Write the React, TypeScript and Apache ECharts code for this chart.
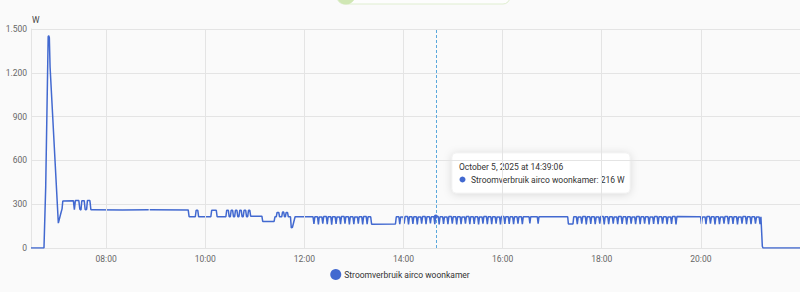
import React, { useEffect, useRef } from "react";
import * as echarts from "echarts";

const seriesName = "Stroomverbruik airco woonkamer";
const unitName = "W";
const dayYear = 2025;
const dayMonthIndex = 9; // October
const dayDate = 5;
const yTicks = [0, 300, 600, 900, 1200, 1500];
const xTickHours = [8, 10, 12, 14, 16, 18, 20];
const axisEndMinute = 1320; // 22:00
const hoverMinute = 879.1; // 14:39:06
const hoverValue = 216;
const tooltipTitle = "October 5, 2025 at 14:39:06";
const tooltipLine = "Stroomverbruik airco woonkamer: 216 W";

// [minute of day, watts]
const samples: [number, number | null][] = [
  [389.1, 0], [404.8, 0], [406.9, 418], [409.9, 1448], [410.6, 1455], [411.3, 1440], [412.2, 1240],
  [422.2, 170], [425.3, 240], [426.7, 268], [427.6, 322], [440.4, 324], [441.6, 262], [442.8, 325],
  [447.0, 325], [448.2, 266], [449.6, 260], [450.6, 324], [453.5, 324], [454.7, 262], [456.4, 264],
  [457.4, 325], [460.4, 325], [461.6, 262], [463.2, 262], [500.0, 261], [531.6, 262], [532.1, null],
  [532.8, 262], [579.4, 261],
  [580.5, 214], [588.0, 214], [589.0, 258], [591.0, 258], [592.0, 214], [606.8, 214], [607.8, 258],
  [613.4, 258], [614.4, 214], [625.0, 214], [626.0, 258], [628.0, 258], [629.0, 214], [630.4, 214],
  [631.4, 258], [633.2, 258], [634.2, 214], [635.6, 214], [636.6, 258], [638.4, 258], [639.4, 214],
  [640.8, 214], [641.8, 258], [643.6, 258], [644.6, 214], [646.0, 214], [647.0, 258], [649.0, 258],
  [650.0, 214], [651.4, 214], [652.4, 258], [654.0, 258], [655.0, 218], [668.6, 218], [669.6, 182],
  [683.4, 182], [684.4, 214], [686.0, 214], [687.0, 244], [689.0, 244], [690.0, 214], [692.6, 214],
  [693.6, 246], [695.0, 246], [696.0, 214], [697.0, 214], [698.0, 244], [699.6, 244], [700.6, 214],
  [703.2, 214], [704.2, 138], [705.6, 142], [708.8, 214],
  [727.3, 214], [730.5, 214], [731.6, 165], [732.7, 214], [735.9, 214], [737.0, 162],
  [738.0, 213], [741.2, 213], [742.3, 166], [743.4, 215], [746.6, 215], [747.7, 163],
  [748.8, 214], [752.0, 214], [753.1, 160], [754.1, 214], [757.3, 214], [758.4, 165],
  [759.5, 213], [762.7, 213], [763.8, 163], [764.9, 215], [768.1, 215], [769.2, 167],
  [770.2, 214], [773.4, 214], [774.5, 162], [775.6, 214], [778.8, 214], [779.9, 164],
  [781.0, 213], [784.2, 213], [785.3, 166], [786.3, 214], [789.5, 214], [790.6, 161],
  [791.7, 215], [794.9, 215], [796.0, 164], [797.1, 214], [800.3, 214], [801.4, 163],
  [830.3, 165],
  [831.3, 214], [834.4, 214], [835.5, 164], [836.6, 213], [839.7, 213], [840.8, 167],
  [841.9, 215], [845.0, 215], [846.1, 162], [847.2, 214], [850.3, 214], [851.4, 165],
  [852.5, 214], [855.6, 214], [856.7, 161], [857.8, 213], [860.9, 213], [862.0, 166],
  [863.1, 215], [866.2, 215], [867.3, 163], [868.4, 214], [871.5, 214], [872.6, 168],
  [873.7, 214], [876.8, 214], [877.9, 164], [879.0, 216], [882.1, 216], [883.2, 162],
  [884.3, 214], [887.4, 214], [888.5, 165], [889.6, 213], [892.7, 213], [893.8, 163],
  [894.9, 215], [898.0, 215], [899.1, 166], [900.2, 214], [903.3, 214], [904.4, 161],
  [905.5, 214], [908.6, 214], [909.7, 164], [910.8, 213], [913.9, 213], [915.0, 167],
  [916.1, 215], [919.2, 215], [920.3, 163], [921.4, 214], [924.5, 214], [925.6, 165],
  [926.7, 214], [929.8, 214], [930.9, 162], [932.0, 213], [935.1, 213], [936.2, 166],
  [937.3, 215], [940.4, 215], [941.5, 164], [942.6, 214], [945.7, 214], [946.8, 163],
  [947.9, 214], [951.0, 214], [952.1, 167], [953.2, 213], [956.3, 213], [957.4, 162],
  [958.5, 215], [961.6, 215], [962.7, 165],
  [963.8, 214], [966.9, 214], [968.0, 165], [969.1, 214], [972.2, 214], [973.3, 163],
  [974.4, 214], [977.5, 214], [978.6, 166], [979.7, 214], [982.8, 214], [983.9, 164],
  [985.0, 214], [992.0, 214], [993.0, 168], [994.0, 214], [1002.0, 214], [1003.0, 166],
  [1004.0, 214], [1038.8, 214], [1039.6, 165], [1045.2, 165],
  [1046.1, 214], [1049.3, 214], [1050.4, 164], [1051.5, 213], [1054.7, 213], [1055.8, 166],
  [1057.0, 215], [1060.2, 215], [1061.3, 162], [1062.4, 214], [1065.6, 214], [1066.7, 165],
  [1067.8, 214], [1071.0, 214], [1072.1, 163], [1073.3, 213], [1076.5, 213], [1077.6, 167],
  [1078.7, 215], [1081.9, 215], [1083.0, 161], [1084.1, 214], [1087.3, 214], [1088.4, 164],
  [1089.6, 214], [1092.8, 214], [1093.9, 166], [1095.0, 213], [1098.2, 213], [1099.3, 163],
  [1100.4, 215], [1103.6, 215], [1104.7, 165], [1105.9, 214], [1109.1, 214], [1110.2, 162],
  [1111.3, 214], [1114.5, 214], [1115.6, 167], [1116.7, 213], [1119.9, 213], [1121.0, 164],
  [1122.2, 215], [1125.4, 215], [1126.5, 163], [1127.6, 214], [1130.8, 214], [1131.9, 166],
  [1133.0, 214], [1136.2, 214], [1137.3, 162], [1138.5, 213], [1141.7, 213], [1142.8, 165],
  [1143.9, 215], [1147.1, 215], [1148.2, 164], [1149.3, 214], [1152.5, 214], [1153.6, 167],
  [1154.8, 214], [1158.0, 214], [1159.1, 163], [1160.2, 213], [1163.4, 213], [1164.5, 165],
  [1165.6, 215], [1168.8, 215], [1169.9, 162],
  [1171.0, 216],
  [1196.4, 214], [1199.6, 214], [1200.7, 165], [1201.9, 213], [1205.1, 213], [1206.2, 163],
  [1207.3, 215], [1210.5, 215], [1211.6, 166], [1212.8, 214], [1216.0, 214], [1217.1, 162],
  [1218.2, 214], [1221.4, 214], [1222.5, 164], [1223.7, 213], [1226.9, 213], [1228.0, 167],
  [1229.1, 215], [1232.3, 215], [1233.4, 163], [1234.6, 214], [1237.8, 214], [1238.9, 165],
  [1240.0, 214], [1243.2, 214], [1244.3, 162], [1245.5, 213], [1248.7, 213], [1249.8, 166],
  [1250.9, 215], [1254.1, 215], [1255.2, 164], [1256.4, 214], [1259.6, 214], [1260.7, 163],
  [1261.8, 214], [1265.0, 214], [1266.1, 167], [1267.3, 213], [1270.5, 213], [1271.6, 164],
  [1272.7, 214], [1274.4, 12], [1275.2, 0], [1320.0, 0],
];

const LINE_COLOR = "#4269d0";
const GRID_COLOR = "#e4e4e4";
const FONT = "Roboto, 'Noto Sans', sans-serif";

function minuteToTs(m: number): number {
  return new Date(dayYear, dayMonthIndex, dayDate, 0, 0, 0).getTime() + Math.round(m * 60000);
}

function fmtThousands(v: number): string {
  return String(Math.round(v)).replace(/\B(?=(\d{3})+(?!\d))/g, ".");
}

export default function App() {
  const ref = useRef<HTMLDivElement>(null);

  useEffect(() => {
    if (!ref.current) return;
    const chart = echarts.init(ref.current, undefined, { renderer: "svg" });
    const data = samples.map(([m, v]) => [minuteToTs(m), v]);
    const hoverTs = minuteToTs(hoverMinute);
    const twoHours = 2 * 3600 * 1000;

    chart.setOption({
      animation: false,
      backgroundColor: "#fafafa",
      textStyle: { fontFamily: FONT },
      grid: { left: 31, right: 0, top: 29, bottom: 44, containLabel: false },
      xAxis: {
        type: "time",
        min: minuteToTs(samples[0][0]),
        max: minuteToTs(axisEndMinute),
        minInterval: twoHours,
        maxInterval: twoHours,
        axisLine: { show: false },
        axisTick: { show: false },
        splitLine: { show: false },
        axisLabel: {
          color: "#666",
          fontSize: 8.5,
          fontFamily: FONT,
          margin: 6,
          formatter: (val: number) => {
            const d = new Date(val);
            const h = d.getHours();
            if (d.getMinutes() !== 0 || xTickHours.indexOf(h) < 0) return "";
            return (h < 10 ? "0" : "") + h + ":00";
          },
        },
      },
      yAxis: {
        type: "value",
        min: yTicks[0],
        max: yTicks[yTicks.length - 1],
        interval: yTicks[1] - yTicks[0],
        name: unitName,
        nameLocation: "end",
        nameGap: 5,
        nameTextStyle: { color: "#444", fontSize: 8.5, fontFamily: FONT, align: "left", padding: [0, 0, 0, 1] },
        axisLine: { show: true, lineStyle: { color: GRID_COLOR } },
        axisTick: { show: false },
        splitLine: { show: true, lineStyle: { color: GRID_COLOR, width: 1 } },
        axisLabel: {
          color: "#666",
          fontSize: 8.5,
          fontFamily: FONT,
          margin: 4,
          formatter: (v: number) => fmtThousands(v),
        },
      },
      legend: {
        data: [seriesName],
        bottom: 7,
        left: "center",
        icon: "circle",
        itemWidth: 11,
        itemHeight: 11,
        itemGap: 10,
        textStyle: { color: "#333", fontSize: 8.5, fontFamily: FONT, padding: [0, 0, 0, -2] },
      },
      series: [
        {
          name: "timeGrid",
          type: "line",
          data: [],
          silent: true,
          z: 1,
          markLine: {
            silent: true,
            symbol: ["none", "none"],
            label: { show: false },
            lineStyle: { type: "solid", color: GRID_COLOR, width: 1 },
            data: xTickHours.map((h) => ({ xAxis: minuteToTs(h * 60) })),
          },
        },
        {
          name: seriesName,
          type: "line",
          z: 3,
          data,
          showSymbol: false,
          smooth: false,
          connectNulls: false,
          lineStyle: { color: LINE_COLOR, width: 1.5 },
          itemStyle: { color: LINE_COLOR },
          emphasis: { disabled: true },
          markLine: {
            silent: true,
            symbol: ["none", "none"],
            label: { show: false },
            lineStyle: { type: [3, 2], color: "#5aa8dc", width: 1 },
            data: [{ xAxis: hoverTs }],
          },
          markPoint: {
            silent: true,
            symbol: "circle",
            symbolSize: 4,
            label: { show: false },
            itemStyle: { color: LINE_COLOR },
            data: [{ coord: [hoverTs, hoverValue] }],
          },
        },
      ],
      graphic: [
        {
          type: "rect",
          shape: { x: 337, y: -20, width: 173, height: 24, r: 7 },
          style: { fill: "#fdfdfd", stroke: "#dfeed0", lineWidth: 1 },
          silent: true,
        },
        {
          type: "circle",
          shape: { cx: 346, cy: -5, r: 9.5 },
          style: { fill: "#d0e7b4" },
          silent: true,
        },
        {
          type: "group",
          silent: true,
          children: [
            {
              type: "rect",
              shape: { x: 452, y: 153, width: 178, height: 40, r: 4 },
              style: {
                fill: "#ffffff",
                stroke: "#e8e8e8",
                lineWidth: 0.5,
                shadowBlur: 8,
                shadowColor: "rgba(0,0,0,0.14)",
                shadowOffsetY: 1,
              },
            },
            {
              type: "text",
              x: 459,
              y: 166.5,
              style: {
                text: tooltipTitle,
                fill: "#333",
                font: "8.5px " + FONT,
                textVerticalAlign: "middle",
                verticalAlign: "middle",
              },
            },
            {
              type: "circle",
              shape: { cx: 462.5, cy: 179.5, r: 3 },
              style: { fill: LINE_COLOR },
            },
            {
              type: "text",
              x: 471,
              y: 179.5,
              style: {
                text: tooltipLine,
                fill: "#333",
                font: "8.5px " + FONT,
                textVerticalAlign: "middle",
                verticalAlign: "middle",
              },
            },
          ],
        },
      ],
    });

    return () => chart.dispose();
  }, []);

  return (
    <div
      ref={ref}
      style={{ position: "absolute", left: 0, top: 0, width: 800, height: 292, background: "#fafafa" }}
    />
  );
}
